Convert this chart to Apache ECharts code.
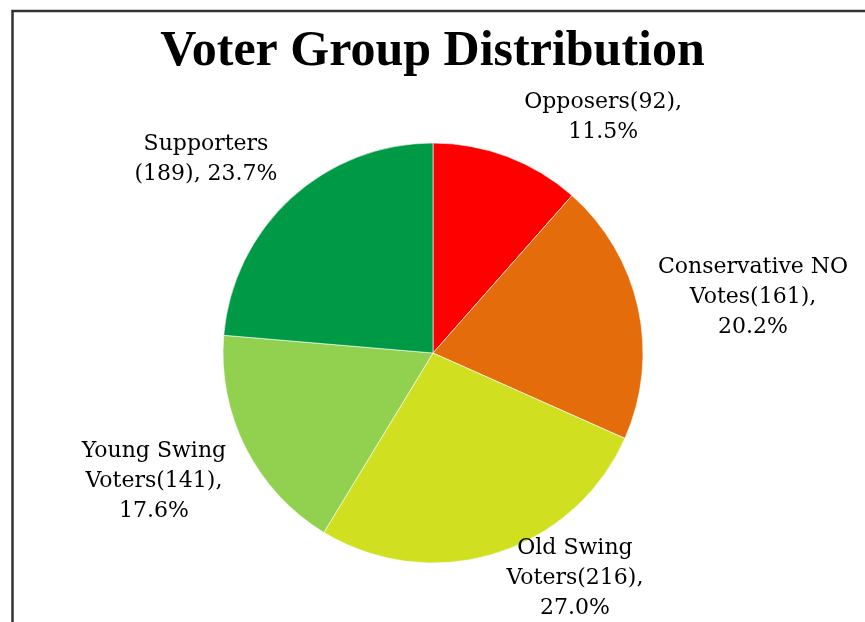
<!DOCTYPE html>
<html>
<head>
<meta charset="utf-8">
<script src="https://cdn.jsdelivr.net/npm/echarts@6/dist/echarts.min.js"></script>
<style>
  html, body { margin: 0; padding: 0; background: #fff; }
  #chart { width: 865px; height: 622px; }
</style>
</head>
<body>
<div id="chart"></div>
<script>
// Voter groups, clockwise from 12 o'clock
const groups = ['Opposers', 'Conservative NO\nVotes', 'Old Swing\nVoters', 'Young Swing\nVoters', 'Supporters\n'];
const counts = [92, 161, 216, 141, 189];
// separator placed between the count and the percentage in each label
const pctSeparators = ['\n', '\n', '\n', '\n', ' '];
const sliceColors = ['#FF0000', '#E46C0A', '#D0E021', '#92D050', '#009A46'];

// label anchor points, in units of the pie radius from the pie centre
const labelAnchors = [
  [0.81, -1.124],
  [1.524, -0.267],
  [0.676, 1.071],
  [-1.329, 0.61],
  [-1.081, -0.924]
];

const pieCenter = [433, 353];
const pieRadius = 210;
const total = counts.reduce((a, b) => a + b, 0);

const chart = echarts.init(document.getElementById('chart'), null, { renderer: 'canvas' });

chart.setOption({
  backgroundColor: '#ffffff',
  animation: false,
  title: {
    text: 'Voter Group Distribution',
    left: 'center',
    top: 22,
    textStyle: {
      fontFamily: '"Liberation Serif", serif',
      fontWeight: 'bold',
      fontSize: 50,
      color: '#000'
    }
  },
  graphic: [{
    type: 'rect',
    shape: { x: 12.5, y: 11, width: 1000, height: 800 },
    style: { fill: 'none', stroke: '#333', lineWidth: 2.5 },
    silent: true,
    z: 100
  }],
  series: [{
    type: 'pie',
    center: pieCenter,
    radius: pieRadius,
    startAngle: 90,
    clockwise: true,
    avoidLabelOverlap: false,
    itemStyle: { borderColor: '#ffffff', borderWidth: 0.6 },
    label: {
      show: true,
      position: 'outside',
      fontFamily: '"DejaVu Serif", serif',
      fontSize: 22,
      lineHeight: 30,
      color: '#000',
      align: 'center',
      formatter: (p) => {
        const pct = (counts[p.dataIndex] / total * 100).toFixed(1);
        return p.name + '(' + p.value + '),' + pctSeparators[p.dataIndex] + pct + '%';
      }
    },
    labelLine: { show: false },
    labelLayout: (params) => {
      const a = labelAnchors[params.dataIndex];
      return {
        x: pieCenter[0] + a[0] * pieRadius,
        y: pieCenter[1] + a[1] * pieRadius,
        align: 'center',
        verticalAlign: 'middle'
      };
    },
    emphasis: { disabled: true },
    data: groups.map((g, i) => ({
      name: g,
      value: counts[i],
      itemStyle: { color: sliceColors[i] }
    }))
  }]
});
</script>
</body>
</html>
